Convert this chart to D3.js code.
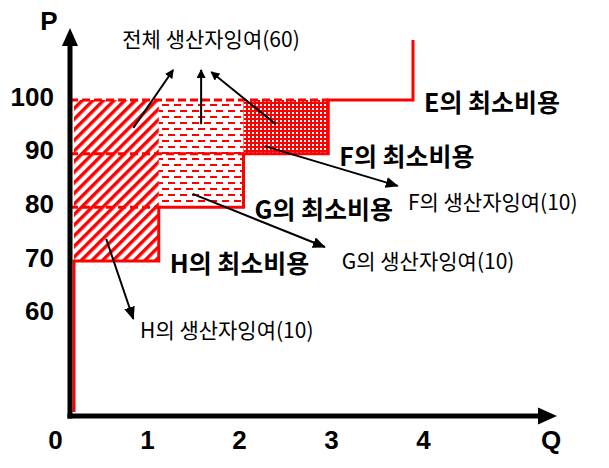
<!DOCTYPE html>
<html>
<head>
<meta charset="utf-8">
<script src="https://cdn.jsdelivr.net/npm/d3@7"></script>
<style>
  body { margin: 0; background: #fff; }
</style>
</head>
<body>
<div id="chart"></div>
<script>
// 기업별 최소비용 (각 기업 1단위 공급)
const firms = ['H', 'G', 'F', 'E'];
const minCost = [70, 80, 90, 100];
const marketPrice = 100;
const qTicks = [0, 1, 2, 3, 4];
const pTicks = [100, 90, 80, 70, 60];
const surplusLabels = ['H의 생산자잉여(10)', 'G의 생산자잉여(10)', 'F의 생산자잉여(10)'];
const totalLabel = '전체 생산자잉여(60)';

const width = 609, height = 468;
const svg = d3.select('#chart').append('svg')
    .attr('width', width)
    .attr('height', height)
    .style('font-family', '"Noto Sans CJK KR", sans-serif');

const x = d3.scaleLinear().domain([0, 4]).range([74, 413]);
const y = d3.scaleLinear().domain([70, 100]).range([261, 100]);
const xLab = d3.scaleLinear().domain([0, 4]).range([55, 423]); // 축 눈금 글자 위치

const axisLeftX = x(0) - 4;
const axisBottomY = 416;
const curveTop = 40, curveBottom = 412;

// 패턴
const defs = svg.append('defs');
const hatch = defs.append('pattern').attr('id', 'pat-H')
    .attr('patternUnits', 'userSpaceOnUse')
    .attr('width', 7.5).attr('height', 7.5)
    .attr('patternTransform', 'rotate(45)');
hatch.append('rect').attr('width', 3.4).attr('height', 7.5).attr('fill', 'red');

const dash = defs.append('pattern').attr('id', 'pat-G')
    .attr('patternUnits', 'userSpaceOnUse')
    .attr('width', 12).attr('height', 12);
dash.append('rect').attr('x', 0).attr('y', 2).attr('width', 7).attr('height', 2).attr('fill', 'red');
dash.append('rect').attr('x', 6).attr('y', 8).attr('width', 7).attr('height', 2).attr('fill', 'red');
dash.append('rect').attr('x', -6).attr('y', 8).attr('width', 7).attr('height', 2).attr('fill', 'red');

// F: 촘촘한 망점 (빨강 바탕에 흰 점)
const dots = defs.append('pattern').attr('id', 'pat-F')
    .attr('patternUnits', 'userSpaceOnUse')
    .attr('width', 4).attr('height', 4);
dots.append('rect').attr('width', 4).attr('height', 4).attr('fill', '#ff0000');
dots.append('rect').attr('x', 0).attr('y', 0).attr('width', 2).attr('height', 2).attr('fill', '#ffffff');

// 화살표 머리
function addMarker(id, w, h) {
    defs.append('marker').attr('id', id)
        .attr('viewBox', `0 0 ${w} ${h}`)
        .attr('refX', w - 1).attr('refY', h / 2)
        .attr('markerWidth', w).attr('markerHeight', h)
        .attr('markerUnits', 'userSpaceOnUse')
        .attr('orient', 'auto')
        .append('path').attr('d', `M0,0L${w},${h / 2}L0,${h}Z`).attr('fill', '#000');
}
addMarker('arrow', 13, 11);
addMarker('arrow-s', 9, 9);

// 생산자잉여 영역
svg.selectAll('.surplus')
    .data(minCost.slice(0, 3))
    .enter()
    .append('rect')
    .attr('class', 'surplus')
    .attr('x', (_, i) => x(i))
    .attr('y', y(marketPrice))
    .attr('width', (_, i) => x(i + 1) - x(i))
    .attr('height', d => y(d) - y(marketPrice))
    .attr('fill', (_, i) => `url(#pat-${firms[i]})`);

// 최소비용 점선 (세로축까지)
minCost.forEach((c, i) => {
    if (i === 0) return;
    svg.append('line')
        .attr('x1', axisLeftX).attr('y1', y(c))
        .attr('x2', x(i)).attr('y2', y(c))
        .attr('stroke', 'red').attr('stroke-width', 3)
        .attr('stroke-dasharray', '8,4');
});

// 공급곡선 (계단)
const steps = [[0, y.invert(curveBottom)]]
    .concat(minCost.map((c, i) => [i, c]))
    .concat([[firms.length, y.invert(curveTop)]]);
const stepLine = d3.line().x(d => x(d[0])).y(d => y(d[1])).curve(d3.curveStepAfter);
svg.append('path').datum(steps)
    .attr('fill', 'none').attr('stroke', 'red').attr('stroke-width', 3)
    .attr('d', stepLine);

// 축
svg.append('line')
    .attr('x1', axisLeftX).attr('y1', axisBottomY + 2.5)
    .attr('x2', axisLeftX).attr('y2', 44)
    .attr('stroke', '#000').attr('stroke-width', 5);
svg.append('path')
    .attr('d', `M${axisLeftX - 8},46L${axisLeftX},28L${axisLeftX + 8},46Z`)
    .attr('fill', '#000');
svg.append('line')
    .attr('x1', axisLeftX - 2.5).attr('y1', axisBottomY)
    .attr('x2', 540).attr('y2', axisBottomY)
    .attr('stroke', '#000').attr('stroke-width', 5);
svg.append('path')
    .attr('d', `M538,${axisBottomY - 8.5}L557,${axisBottomY}L538,${axisBottomY + 8.5}Z`)
    .attr('fill', '#000');

const tickFont = '"Liberation Sans", Arial, sans-serif';
const yAxis = svg.append('g')
    .attr('transform', 'translate(54,-3)')
    .call(d3.axisLeft(y).tickValues(pTicks).tickSize(0).tickPadding(0).tickFormat(d3.format('d')));
const xAxis = svg.append('g')
    .attr('transform', 'translate(0,440)')
    .call(d3.axisBottom(xLab).tickValues(qTicks).tickSize(0).tickPadding(0).tickFormat(d3.format('d')));
[yAxis, xAxis].forEach(g => {
    g.select('.domain').remove();
    g.selectAll('text')
        .style('font-family', tickFont)
        .style('font-size', '26px')
        .style('font-weight', 'bold')
        .attr('fill', '#000');
});
xAxis.selectAll('text').attr('y', 0).attr('dy', '0.36em');

svg.append('text').attr('x', 49).attr('y', 21).attr('dy', '0.36em')
    .attr('text-anchor', 'middle')
    .style('font-family', tickFont).style('font-size', '26px').style('font-weight', 'bold')
    .text('P');
svg.append('text').attr('x', 551).attr('y', 440).attr('dy', '0.36em')
    .attr('text-anchor', 'middle')
    .style('font-family', tickFont).style('font-size', '26px').style('font-weight', 'bold')
    .text('Q');

// 최소비용 표시
minCost.forEach((c, i) => {
    svg.append('text')
        .attr('x', x(i + 1) + 11)
        .attr('y', y(c) + 1)
        .attr('dominant-baseline', 'central')
        .style('font-size', '25px')
        .style('font-weight', 'bold')
        .text(`${firms[i]}의 최소비용`);
});

// 생산자잉여 화살표와 글자 (데이터 좌표 [Q, P])
const surplusFrom = [[0.38, 74.1], [1.4, 82.5], [2.25, 91.4]];
const surplusTo = [[0.70, 59.2], [2.96, 72.6], [3.82, 84]];
const surplusAt = [[0.78, 57.3], [3.16, 70.1], [3.94, 81.1]];
surplusLabels.forEach((label, i) => {
    svg.append('line')
        .attr('x1', x(surplusFrom[i][0])).attr('y1', y(surplusFrom[i][1]))
        .attr('x2', x(surplusTo[i][0])).attr('y2', y(surplusTo[i][1]))
        .attr('stroke', '#000').attr('stroke-width', 2)
        .attr('marker-end', 'url(#arrow)');
    svg.append('text')
        .attr('x', x(surplusAt[i][0]))
        .attr('y', y(surplusAt[i][1]))
        .attr('dominant-baseline', 'central')
        .style('font-size', '21px')
        .text(label);
});

const totalFrom = [[0.7, 94.8], [1.5, 95.5], [2.38, 95.5]];
const totalTo = [[1.17, 105.6], [1.5, 105.6], [1.62, 105.2]];
totalFrom.forEach((d, i) => {
    svg.append('line')
        .attr('x1', x(d[0])).attr('y1', y(d[1]))
        .attr('x2', x(totalTo[i][0])).attr('y2', y(totalTo[i][1]))
        .attr('stroke', '#000').attr('stroke-width', 2)
        .attr('marker-end', 'url(#arrow-s)');
});
svg.append('text')
    .attr('x', x(0.57)).attr('y', y(111.6))
    .attr('dominant-baseline', 'central')
    .style('font-size', '21px')
    .text(totalLabel);
</script>
</body>
</html>
